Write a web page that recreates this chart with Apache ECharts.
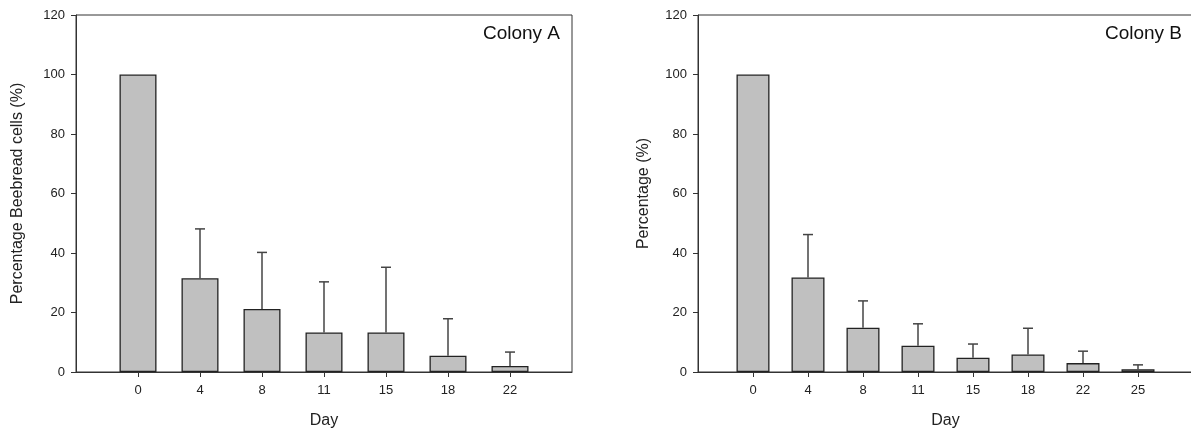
<!DOCTYPE html>
<html>
<head>
<meta charset="utf-8">
<script src="https://cdn.jsdelivr.net/npm/echarts@6/dist/echarts.min.js"></script>
<style>
  html, body { margin: 0; padding: 0; background: #fff; }
  #chart { width: 1191px; height: 434px; }
</style>
</head>
<body>
<div id="chart"></div>
<script>
// Colony A
var daysA = ['0', '4', '8', '11', '15', '18', '22'];
var meanA = [100, 31.5, 21.2, 13.3, 13.3, 5.5, 2.0];
var errA = [0, 16.6, 19.0, 17.0, 21.9, 12.4, 4.7];
// Colony B
var daysB = ['0', '4', '8', '11', '15', '18', '22', '25'];
var meanB = [100, 31.8, 14.9, 8.8, 4.8, 5.9, 3.0, 0.9];
var errB = [0, 14.4, 9.0, 7.4, 4.6, 8.8, 4.0, 1.5];
var yTicks = [0, 20, 40, 60, 80, 100, 120];

var font = '"Liberation Sans", Arial, sans-serif';
var axisCol = '#333';

// blank slot at each end of the axis, like the original
function padCats(d) { return [''].concat(d, ['']); }
function padVals(v) { return [null].concat(v, [null]); }
function errData(mean, err) {
  var out = [];
  mean.forEach(function (m, i) {
    if (err[i] > 0) out.push([i + 1, m, m + err[i]]);
  });
  return out;
}

function renderErr(params, api) {
  var lo = api.coord([api.value(0), api.value(1)]);
  var hi = api.coord([api.value(0), api.value(2)]);
  var st = { stroke: '#444', lineWidth: 1.5 };
  return {
    type: 'group',
    children: [
      { type: 'line', shape: { x1: lo[0], y1: lo[1], x2: hi[0], y2: hi[1] }, style: st },
      { type: 'line', shape: { x1: hi[0] - 5, y1: hi[1], x2: hi[0] + 5, y2: hi[1] }, style: st }
    ]
  };
}

function xAxis(idx, cats) {
  return {
    type: 'category', gridIndex: idx, data: padCats(cats), boundaryGap: false,
    name: 'Day', nameLocation: 'middle', nameGap: 41,
    nameTextStyle: { fontFamily: font, fontSize: 16, color: '#222' },
    axisLine: { lineStyle: { color: axisCol, width: 1 } },
    axisTick: { length: 5, lineStyle: { color: axisCol }, interval: function (i, v) { return v !== ''; } },
    axisLabel: { fontFamily: font, fontSize: 13, color: '#222', margin: 12, interval: 0 },
    splitLine: { show: false }
  };
}
function yAxis(idx, name, gap) {
  return {
    type: 'value', gridIndex: idx, min: yTicks[0], max: yTicks[yTicks.length - 1], interval: 20,
    name: name, nameLocation: 'middle', nameGap: gap,
    nameTextStyle: { fontFamily: font, fontSize: 16, color: '#222' },
    axisLine: { show: true, lineStyle: { color: axisCol, width: 1 } },
    axisTick: { show: true, length: 5, lineStyle: { color: axisCol } },
    axisLabel: { fontFamily: font, fontSize: 13, color: '#222', margin: 11 },
    splitLine: { show: false }
  };
}
function bars(idx, mean, w) {
  return {
    type: 'bar', xAxisIndex: idx, yAxisIndex: idx, data: padVals(mean), barWidth: w,
    itemStyle: { color: '#c0c0c0', borderColor: '#222', borderWidth: 1.3 },
    silent: true, z: 2
  };
}
function errs(idx, mean, err) {
  return {
    type: 'custom', xAxisIndex: idx, yAxisIndex: idx, data: errData(mean, err),
    renderItem: renderErr, encode: { x: 0, y: [1, 2] }, silent: true, z: 3
  };
}

var chart = echarts.init(document.getElementById('chart'));
chart.setOption({
  animation: false,
  title: [
    { text: 'Colony A', right: 626, top: 19, textStyle: { fontFamily: font, fontSize: 19, fontWeight: 'normal', color: '#111' } },
    { text: 'Colony B', right: 4, top: 19, textStyle: { fontFamily: font, fontSize: 19, fontWeight: 'normal', color: '#111' } }
  ],
  grid: [
    { left: 76, top: 15, width: 496, height: 357, outerBoundsMode: 'none', show: true, borderColor: axisCol, borderWidth: 1 },
    { left: 698, top: 15, width: 495, height: 357, outerBoundsMode: 'none', show: true, borderColor: axisCol, borderWidth: 1 }
  ],
  xAxis: [xAxis(0, daysA), xAxis(1, daysB)],
  yAxis: [yAxis(0, 'Percentage Beebread cells (%)', 50), yAxis(1, 'Percentage (%)', 46)],
  series: [bars(0, meanA, 37), errs(0, meanA, errA), bars(1, meanB, 33), errs(1, meanB, errB)]
});
</script>
</body>
</html>
